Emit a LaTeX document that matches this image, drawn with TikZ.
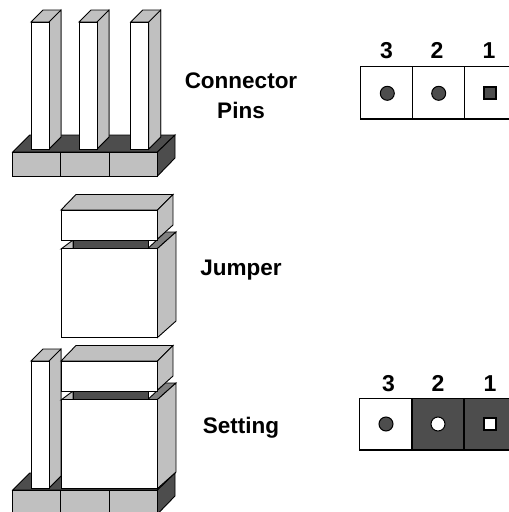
\documentclass[tikz,border=0pt]{standalone}
\usepackage{fontspec}
\setmainfont{Liberation Sans}
\definecolor{lg}{HTML}{C0C0C0}
\definecolor{mg}{HTML}{808080}
\definecolor{dg}{HTML}{4D4D4D}
\tikzset{
  edge/.style={draw=black,line width=0.9pt,line join=miter},
  label/.style={font=\bfseries\fontsize{22.5}{30}\selectfont,align=center,inner sep=0pt,text=black},
  num/.style={font=\bfseries\fontsize{23}{23}\selectfont,inner sep=0pt,text=black},
  grid/.style={draw=black,line width=1.5pt},
  dot/.style={draw=black,line width=1pt,fill=dg,circle,minimum size=14pt,inner sep=0pt},
  sq/.style={draw=black,line width=1.8pt,fill=dg,minimum size=12pt,inner sep=0pt},
  wdot/.style={dot,fill=white},
  wsq/.style={sq,fill=white}
}
% pin: x, y top of front, y bottom of front
\newcommand{\pinbar}[3]{%
  \path[edge,fill=lg] (#1,#2) -- ++(12,-12) -- ++(18,0) -- ++(0,#3-#2) -- ++(-12,12) -- ++(0,-#3+#2) -- cycle;
  \path[edge,fill=lg] (#1+18,#2) -- ++(12,-12) -- ++(0,#3-#2) -- ++(-12,12) -- cycle;
  \path[edge,fill=white] (#1,#2) rectangle (#1+18,#3);
}
% base: y of front top
\newcommand{\basebox}[1]{%
  \path[edge,fill=dg] (12.7,#1) -- ++(17,-17) -- (175,#1-17) -- (157.5,#1) -- cycle;
  \path[edge,fill=dg] (157.5,#1) -- (175,#1-17) -- (175,#1+6) -- (157.5,#1+24) -- cycle;
  \path[edge,fill=lg] (12.7,#1) rectangle (60.5,#1+24);
  \path[edge,fill=lg] (60.5,#1) rectangle (109,#1+24);
  \path[edge,fill=lg] (109,#1) rectangle (157.5,#1+24);
}
% jumper: y of upper front top
\newcommand{\jumperbox}[1]{%
  \path[edge,fill=lg] (61,#1+39) -- (73,#1+30) -- (73,#1+39) -- cycle;
  \path[edge,fill=dg] (73,#1+30) rectangle (148,#1+38);
  \path[edge,fill=mg] (148,#1+38.5) -- (165,#1+22) -- (176,#1+22) -- (157.5,#1+38.5) -- cycle;
  \path[edge,fill=lg] (157.5,#1+38.5) -- (176,#1+22) -- (176,#1+111) -- (157.5,#1+127.5) -- cycle;
  \path[edge,fill=white] (61,#1+38.5) rectangle (157.5,#1+127.5);
  \path[edge,fill=lg] (61,#1) -- (76,#1-15.5) -- (173,#1-15.5) -- (157.5,#1) -- cycle;
  \path[edge,fill=lg] (157.5,#1) -- (173,#1-15.5) -- (173,#1+15) -- (157.5,#1+29) -- cycle;
  \path[edge,fill=white] (61,#1) rectangle (157.5,#1+30);
}
\begin{document}
\begin{tikzpicture}[x=1pt,y=-1pt]
\useasboundingbox (0,0) rectangle (509,512);
% Connector pins
\basebox{152}
\pinbar{31}{22}{149}
\pinbar{79}{22}{149}
\pinbar{130.7}{22}{149}
% Jumper
\jumperbox{210}
% Setting
\basebox{490}
\pinbar{31}{361}{488}
\jumperbox{361}
% Labels
\node[label] (lconn) at (241,96) {Connector\\Pins};
\node[label,anchor=base] (ljump) at (241,275) {Jumper};
\node[label,anchor=base] (lset) at (241,433) {Setting};
% top header
\draw[grid] (508.5,66.7) -- (360.7,66.7) -- (360.7,119) -- (508.5,119);
\draw[grid] (412.3,66.7) -- (412.3,119);
\draw[grid] (464.3,66.7) -- (464.3,119);
\node[dot] (a3) at (387.3,93.3) {};
\node[dot] (a2) at (438.7,93.3) {};
\node[sq] (a1) at (490.3,93.3) {};
\node[num,anchor=base] (na3) at (386.5,58) {3};
\node[num,anchor=base] (na2) at (437,58) {2};
\node[num,anchor=base] (na1) at (489,58) {1};
% bottom header
\fill[dg] (412,398.3) rectangle (508.5,450);
\draw[grid] (508.5,398.3) -- (359.5,398.3) -- (359.5,450) -- (508.5,450);
\draw[grid] (412,398.3) -- (412,450);
\draw[grid] (464,398.3) -- (464,450);
\node[dot] (b3) at (386,424) {};
\node[wdot] (b2) at (438,424) {};
\node[wsq] (b1) at (490,424) {};
\node[num,anchor=base] (nb3) at (388.5,391) {3};
\node[num,anchor=base] (nb2) at (438,391) {2};
\node[num,anchor=base] (nb1) at (490,391) {1};
\end{tikzpicture}
\end{document}
